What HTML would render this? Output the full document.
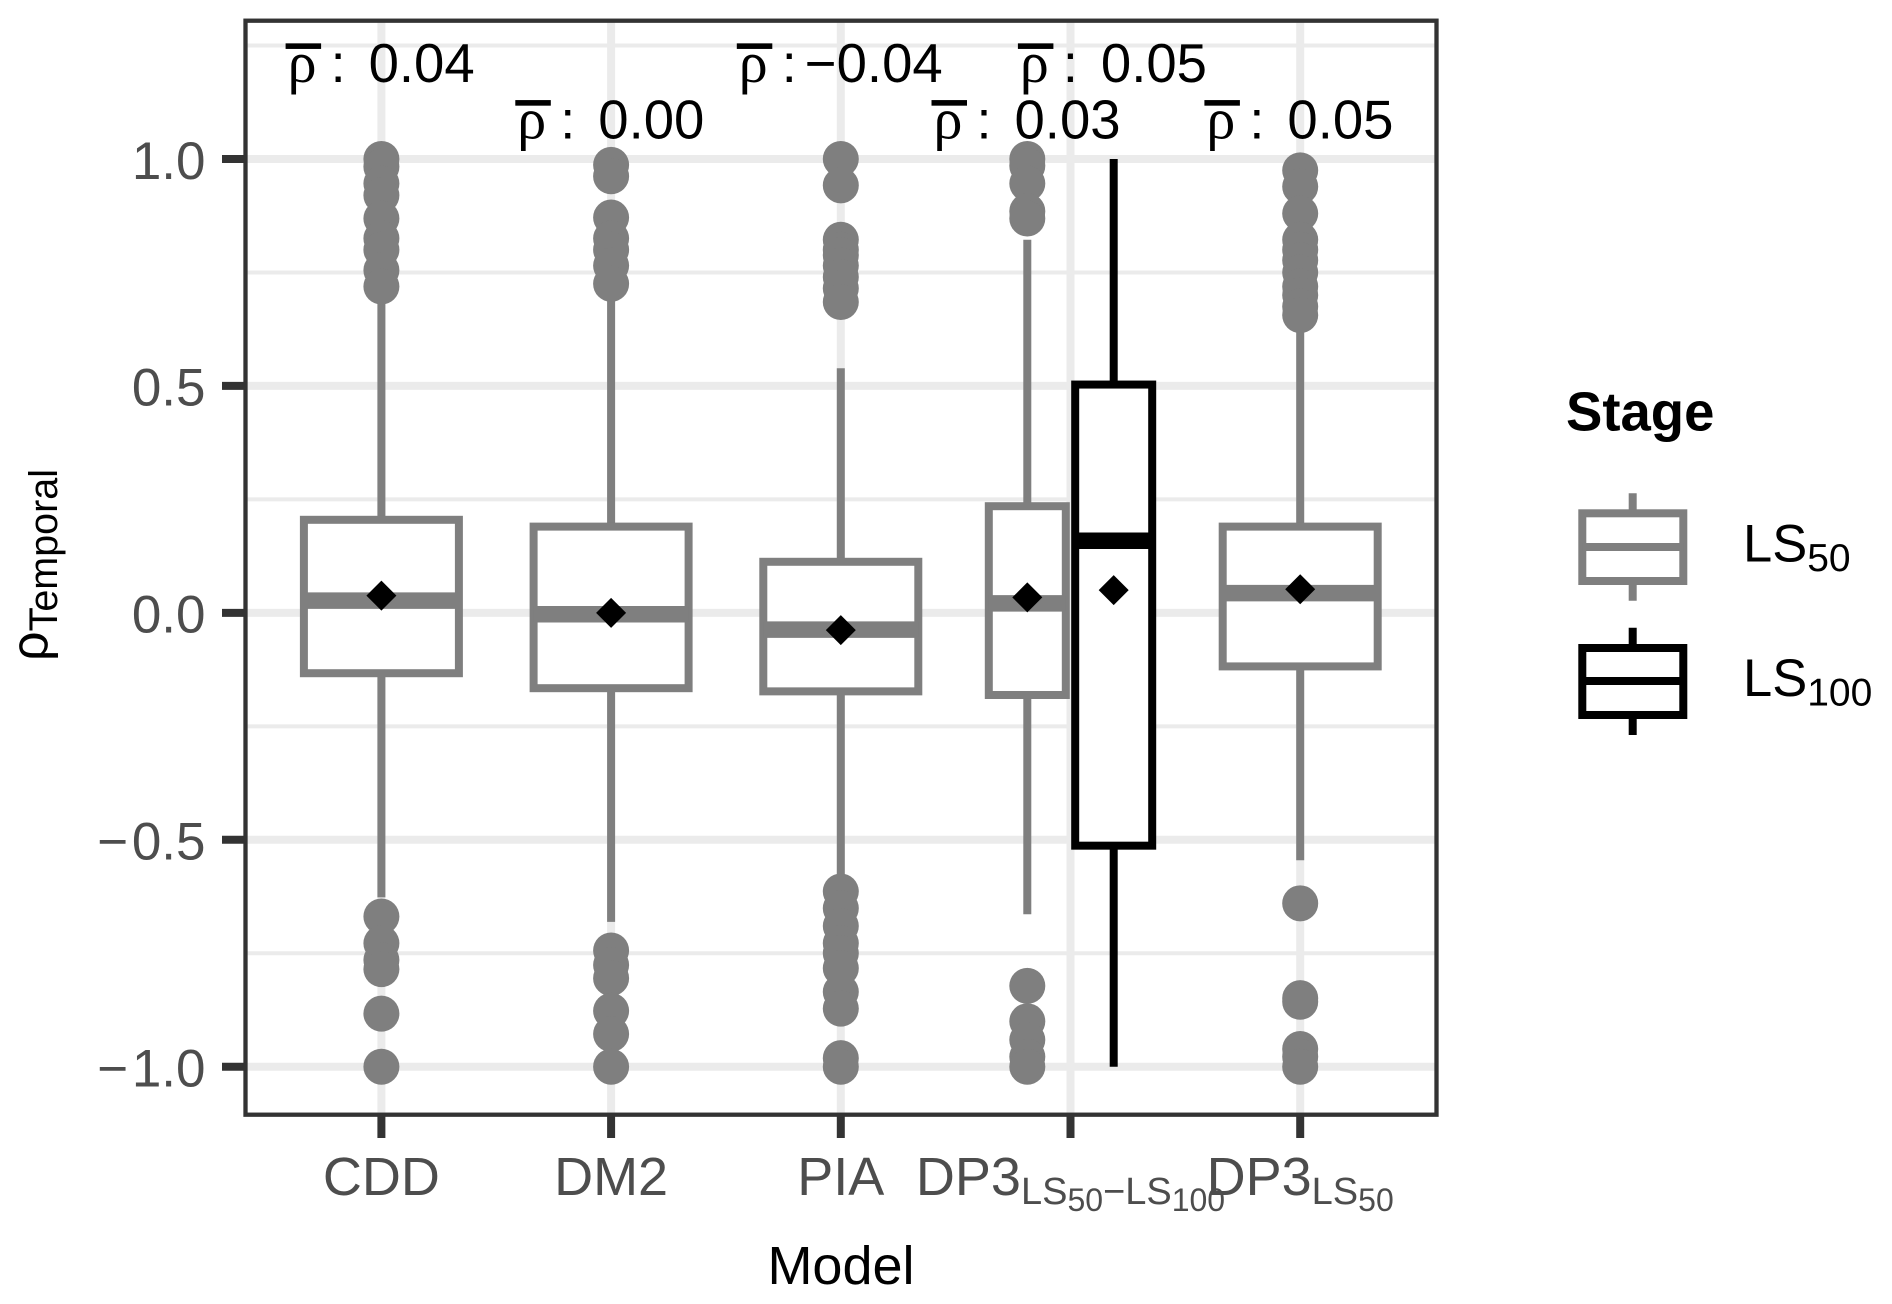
<!DOCTYPE html>
<html lang="en">
<head>
<meta charset="utf-8">
<title>Temporal correlation by model</title>
<style>
html,body{margin:0;padding:0;background:#fff;}
svg{display:block;font-family:"Liberation Sans",sans-serif;}
</style>
</head>
<body>
<svg id="chart" xmlns="http://www.w3.org/2000/svg" width="1892" height="1304" viewBox="0 0 1892 1304">
  <rect x="0" y="0" width="1892" height="1304" fill="#fff"/>
  <g id="grid"></g>
  <g id="marks"></g>
  <g id="annotations"></g>
  <rect x="245.5" y="20.7" width="1191" height="1094" fill="none" stroke="#333" stroke-width="4.3"/>
  <g id="axes"></g>
  <text x="841" y="1284" font-size="54" text-anchor="middle" fill="#000">Model</text>
  <text transform="translate(47,661) rotate(-90)" font-size="52" fill="#000">ρ<tspan font-size="39.5" dy="10">Temporal</tspan></text>
  <g>
    <text x="1566" y="430.7" font-size="54.5" font-weight="700" fill="#000">Stage</text>
    <g stroke="#7f7f7f" stroke-width="8" fill="#fff">
      <line x1="1632.7" x2="1632.7" y1="493.3" y2="600.7"/>
      <rect x="1582.3" y="513.3" width="101" height="67.7"/>
      <line x1="1582.3" x2="1683.3" y1="547" y2="547"/>
    </g>
    <text x="1743" y="561.7" font-size="52.5" fill="#000">LS<tspan font-size="39" dy="9.5">50</tspan></text>
    <g stroke="#000" stroke-width="8" fill="#fff">
      <line x1="1632.7" x2="1632.7" y1="627.7" y2="735"/>
      <rect x="1582.3" y="648" width="101" height="67"/>
      <line x1="1582.3" x2="1683.3" y1="681" y2="681"/>
    </g>
    <text x="1743" y="696" font-size="52.5" fill="#000">LS<tspan font-size="39" dy="9.5">100</tspan></text>
  </g>
</svg>
<script>
// ---- chart data ----
const categories = ['CDD', 'DM2', 'PIA', 'DP3[LS{50}\u2212LS{100}]', 'DP3[LS{50}]'];
const yTicks = [1, 0.5, 0, -0.5, -1];
const yTickLabels = ['1.0', '0.5', '0.0', '\u22120.5', '\u22121.0'];
const yMinorGrid = [1.25, 0.75, 0.25, -0.25, -0.75];

const boxNames = ['cdd', 'dm2', 'pia', 'dp3-ls50-ls100-ls50', 'dp3-ls50-ls100-ls100', 'dp3-ls50'];
const boxCategory = [0, 1, 2, 3, 3, 4];
const boxDodge = [0, 0, 0, -1, 1, 0];
const boxStage = ['LS50', 'LS50', 'LS50', 'LS50', 'LS100', 'LS50'];
const q3 = [0.205, 0.19, 0.1125, 0.235, 0.503, 0.19];
const medians = [0.027, -0.003, -0.037, 0.021, 0.159, 0.0435];
const q1 = [-0.133, -0.166, -0.173, -0.181, -0.513, -0.118];
const whiskerHigh = [0.70, 0.70, 0.539, 0.822, 1.0, 0.63];
const whiskerLow = [-0.627, -0.681, -0.59, -0.664, -1.0, -0.545];
const means = [0.038, 0, -0.038, 0.034, 0.05, 0.052];
const meanLabels = ['0.04', '0.00', '\u22120.04', '0.03', '0.05', '0.05'];
const meanLabelHeight = [1.17, 1.045, 1.17, 1.045, 1.17, 1.045];
const outliers = [
  [1.0, 0.983, 0.946, 0.92, 0.869, 0.825, 0.8, 0.755, 0.719, -0.669, -0.728, -0.765, -0.785, -0.883, -1.0],
  [0.987, 0.962, 0.871, 0.825, 0.8, 0.765, 0.725, -0.744, -0.776, -0.805, -0.877, -0.928, -1.0],
  [1.0, 0.942, 0.822, 0.8, 0.788, 0.765, 0.74, 0.715, 0.685, -0.614, -0.651, -0.69, -0.728, -0.75, -0.783, -0.835, -0.872, -0.981, -1.0],
  [1.0, 0.985, 0.946, 0.885, 0.869, -0.822, -0.9, -0.941, -0.978, -1.0],
  [],
  [0.975, 0.939, 0.88, 0.822, 0.8, 0.777, 0.75, 0.719, 0.7, 0.675, 0.656, -0.64, -0.849, -0.857, -0.961, -0.978, -1.0]
];

// ---- scales ----
const panelLeft = 247, panelRight = 1435, panelTop = 22, panelBottom = 1113;
function xScale(i) { return 381.4 + 229.7 * i; }
function yScale(v) { return 612.85 - 453.85 * v; }
const stageColor = { LS50: '#7f7f7f', LS100: '#000000' };
const NS = 'http://www.w3.org/2000/svg';
function make(tag, parent, props) {
  const el = document.createElementNS(NS, tag);
  for (const k in props) el.setAttribute(k, props[k]);
  parent.appendChild(el);
  return el;
}
const grid = document.getElementById('grid');
const marks = document.getElementById('marks');
const annotations = document.getElementById('annotations');
const axes = document.getElementById('axes');

// ---- grid ----
yMinorGrid.forEach(function (v) {
  const el = make('line', grid, { x1: panelLeft, x2: panelRight, y1: yScale(v), y2: yScale(v), stroke: '#ebebeb', 'stroke-width': 4 });
  
  
});
yTicks.forEach(function (v) {
  const el = make('line', grid, { x1: panelLeft, x2: panelRight, y1: yScale(v), y2: yScale(v), stroke: '#ebebeb', 'stroke-width': 8 });
  
  
});
categories.forEach(function (c, i) {
  const el = make('line', grid, { x1: xScale(i), x2: xScale(i), y1: panelTop, y2: panelBottom, stroke: '#ebebeb', 'stroke-width': 8 });
  
  
});

// ---- boxes ----
boxNames.forEach(function (name, b) {
  const color = stageColor[boxStage[b]];
  const cx = xScale(boxCategory[b]) + boxDodge[b] * 43.2;
  const w = boxDodge[b] === 0 ? 155 : 77;
  const g = make('g', marks, {});
  
  

  const wh = make('line', g, { x1: cx, x2: cx, y1: yScale(whiskerHigh[b]), y2: yScale(q3[b]), stroke: color, 'stroke-width': 8 });
  
  

  const wl = make('line', g, { x1: cx, x2: cx, y1: yScale(q1[b]), y2: yScale(whiskerLow[b]), stroke: color, 'stroke-width': 8 });
  
  

  outliers[b].forEach(function (v) {
    const pt = make('circle', g, { cx: cx, cy: yScale(v), r: 18, fill: color });
    
    
  });

  const rect = make('rect', g, { x: cx - w / 2, y: yScale(q3[b]), width: w, height: yScale(q1[b]) - yScale(q3[b]), fill: '#fff', stroke: color, 'stroke-width': 8 });
  
  

  const med = make('line', g, { x1: cx - w / 2, x2: cx + w / 2, y1: yScale(medians[b]), y2: yScale(medians[b]), stroke: color, 'stroke-width': 16.5 });
  
  

  const my = yScale(means[b]);
  const dia = make('polygon', g, { points: cx + ',' + (my - 15) + ' ' + (cx + 15) + ',' + my + ' ' + cx + ',' + (my + 15) + ' ' + (cx - 15) + ',' + my, fill: '#000' });
  
  

  // annotation
  const negative = meanLabels[b].charAt(0) === '\u2212';
  const start = cx - (negative ? 104 : 95.8);
  const base = yScale(meanLabelHeight[b]);
  const ann = make('g', annotations, {});
  
  

  const bar = make('rect', ann, { x: start, y: base - 38.5, width: 35.5, height: 5.6, fill: '#000' });
  
  

  const rho = make('text', ann, { x: start + 2, y: base, 'font-size': 58, 'font-family': '"Liberation Serif",serif', fill: '#000' });
  rho.textContent = '\u03C1';
  
  

  const colon = make('text', ann, { x: start + 45, y: base, 'font-size': 54, fill: '#000' });
  colon.textContent = ':';
  
  

  const val = make('text', ann, { x: start + (negative ? 68 : 83), y: base, 'font-size': 54.5, fill: '#000' });
  val.textContent = meanLabels[b];
  
  
});

// ---- axes ----
yTicks.forEach(function (v, i) {
  const t = make('line', axes, { x1: 222, x2: 246, y1: yScale(v), y2: yScale(v), stroke: '#333', 'stroke-width': 8 });
  
  
  const l = make('text', axes, { x: 205.5, y: yScale(v) + 19.8, 'font-size': 53, 'text-anchor': 'end', fill: '#4d4d4d' });
  
  
  const label = yTickLabels[i];
  if (label.charAt(0) === '\u2212') {
    const m = make('tspan', l, { 'letter-spacing': 3.6 });
    m.textContent = '\u2212';
    const rest = make('tspan', l, {});
    rest.textContent = label.slice(1);
  } else {
    l.textContent = label;
  }
});
const levelSize = [54, 38, 32];
const levelDrop = [0, 9, 16];
categories.forEach(function (c, i) {
  const t = make('line', axes, { x1: xScale(i), x2: xScale(i), y1: 1115, y2: 1138, stroke: '#333', 'stroke-width': 8 });
  
  
  const l = make('text', axes, { x: xScale(i), y: 1195, 'text-anchor': 'middle', fill: '#4d4d4d', 'font-size': 54 });
  
  
  const runs = [];
  let level = 0;
  for (const ch of c) {
    if (ch === '[' || ch === '}') level = 1;
    else if (ch === '{') level = 2;
    else if (ch === ']') level = 0;
    else if (runs.length && runs[runs.length - 1].level === level) runs[runs.length - 1].text += ch;
    else runs.push({ level: level, text: ch });
  }
  let prevDrop = 0;
  runs.forEach(function (r) {
    const s = make('tspan', l, { 'font-size': levelSize[r.level], dy: levelDrop[r.level] - prevDrop });
    s.textContent = r.text;
    prevDrop = levelDrop[r.level];
  });
});
</script>
</body>
</html>
